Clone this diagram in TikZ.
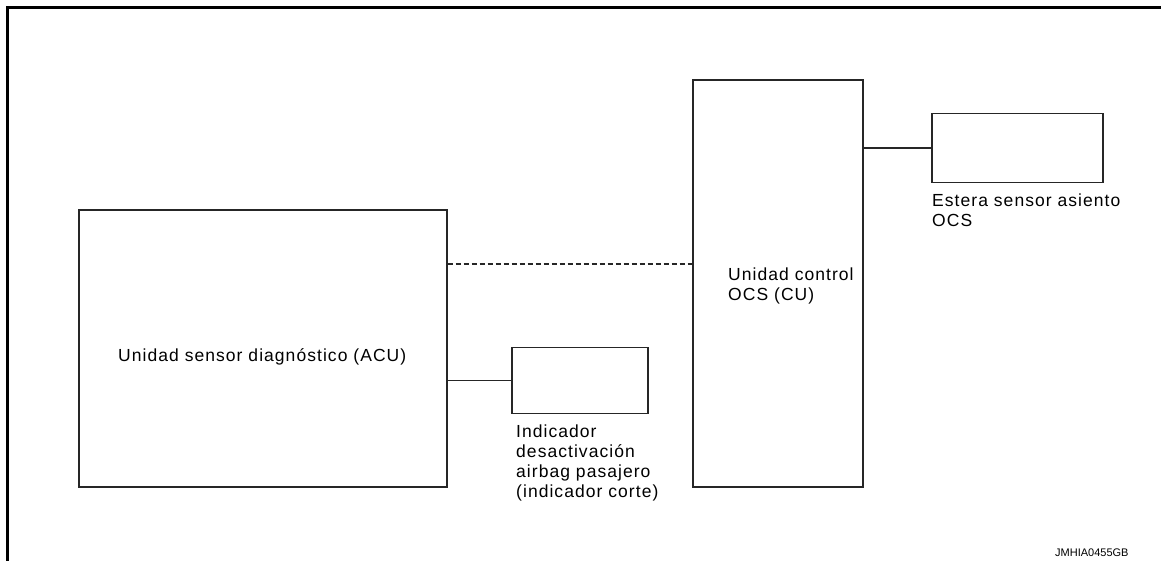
\documentclass[tikz,border=0pt]{standalone}
\usepackage{fontspec}
\setmainfont{Liberation Sans}[LetterSpace=6]
\begin{document}
\begin{tikzpicture}[x=1pt,y=-1pt,
		box/.style={draw=black!85,line width=1.2pt,inner sep=0pt},
		link/.style={draw=black!85,line width=1.2pt},
		lbl/.style={inner sep=0pt,align=left,font=\fontsize{17.5}{20}\selectfont}]
	\useasboundingbox (0,0) rectangle (1161,561);
	\draw[line width=3pt] (1161,7.5) -- (7.5,7.5) -- (7.5,561);
	% units
	\node[box,minimum width=368pt,minimum height=277pt] (acu) at (263,348.5) {};
	\node[box,minimum width=170pt,minimum height=407pt] (cu) at (778,283.5) {};
	\node[box,minimum width=171pt,minimum height=69pt] (mat) at (1017.5,148) {};
	\node[box,minimum width=136pt,minimum height=66pt] (ind) at (580,380.5) {};
	% wiring
	\draw[link,dash pattern=on 5pt off 3pt] ([yshift=84.5pt]acu.east) -- ([yshift=19.5pt]cu.west);
	\draw[link] (acu.east |- ind.west) -- (ind.west);
	\draw[link] (cu.east |- mat.west) -- (mat.west);
	% texts (base = last line)
	\node[lbl,anchor=base west] (acutxt) at (118,361) {Unidad sensor diagnóstico (ACU)};
	\node[lbl,anchor=base west] (cutxt) at (728,300) {Unidad control\\OCS (CU)};
	\node[lbl,anchor=base west] (mattxt) at (932,227) {Estera sensor asiento\\OCS};
	\node[lbl,anchor=base west] (indtxt) at (516,497) {Indicador\\desactivación\\airbag pasajero\\(indicador corte)};
	\node[inner sep=0pt,anchor=base west,font=\fontsize{11}{13}\selectfont\addfontfeature{LetterSpace=0}] (code) at (1055,556) {JMHIA0455GB};
\end{tikzpicture}
\end{document}
